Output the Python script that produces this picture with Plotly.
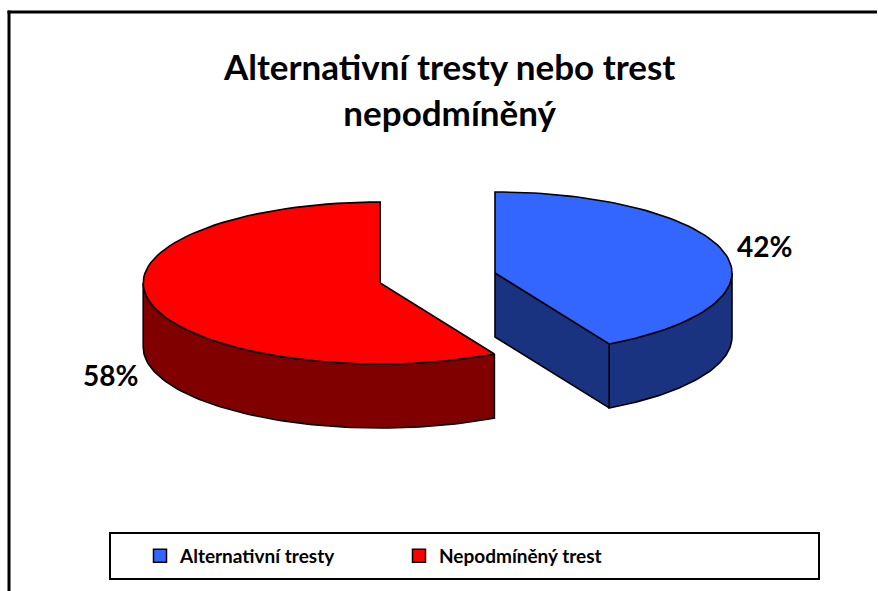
import math
import plotly.graph_objects as go

# data
labels = ["Alternativní tresty", "Nepodmíněný trest"]
values = [42, 58]
top_colors = ["#3366FF", "#FF0000"]
side_colors = ["#1A3380", "#800000"]
title = "Alternativní tresty nebo trest<br>nepodmíněný"

# 3D pie geometry (pixel space of the page)
CX, CY = 437.6, 278.0
RX, RY = 237.0, 81.0
DEPTH = 64.0
EXPLODE = 0.25
FONT = "Lato"


def pt(cx, cy, ang):
    a = math.radians(ang)
    return cx + RX * math.sin(a), cy - RY * math.cos(a)


def arc(cx, cy, a0, a1, n=80):
    pts = [pt(cx, cy, a0 + (a1 - a0) * i / n) for i in range(n + 1)]
    return [p[0] for p in pts], [p[1] for p in pts]


def poly(xs, ys, color, name):
    return go.Scatter(x=xs + [xs[0]], y=ys + [ys[0]], mode="lines", fill="toself",
                      fillcolor=color, line=dict(color="black", width=1.6),
                      showlegend=False, hoverinfo="text", text=name)


fig = go.Figure()
total = float(sum(values))
start = 0.0
annotations = []
for lab, val, ctop, cside in zip(labels, values, top_colors, side_colors):
    end = start + 360.0 * val / total
    mid = (start + end) / 2
    cx = CX + EXPLODE * RX * math.sin(math.radians(mid))
    cy = CY - EXPLODE * RY * math.cos(math.radians(mid))

    # outer wall (front half only)
    w0, w1 = max(start, 90.0), min(end, 270.0)
    if w1 > w0:
        xs, ys = arc(cx, cy, w0, w1)
        fig.add_trace(poly(xs + xs[::-1], ys + [y + DEPTH for y in ys[::-1]], cside, lab))
    # radial faces facing the viewer
    for ang, visible in ((start, math.sin(math.radians(start)) < -1e-9),
                         (end, math.sin(math.radians(end)) > 1e-9)):
        if visible:
            ex, ey = pt(cx, cy, ang)
            fig.add_trace(poly([cx, ex, ex, cx], [cy, ey, ey + DEPTH, cy + DEPTH], cside, lab))
    # top face
    xs, ys = arc(cx, cy, start, end)
    fig.add_trace(poly([cx] + xs, [cy] + ys, ctop, lab))

    # legend entry
    fig.add_trace(go.Scatter(x=[None], y=[None], mode="markers", name=lab,
                             marker=dict(symbol="square", size=13, color=ctop,
                                         line=dict(color="black", width=1.5))))

    # percentage label
    s = math.sin(math.radians(mid))
    lx = cx + (RX + 3) * (1 if s > 0 else -1)
    ly = cy - 1.34 * RY * math.cos(math.radians(mid))
    if math.cos(math.radians(mid)) < 0 and s < 0:
        ly += DEPTH + 1
    annotations.append(dict(x=lx, y=ly, text="<b>%d%%</b>" % val, showarrow=False,
                            xanchor="left" if s > 0 else "right", yanchor="middle",
                            font=dict(size=28, color="black", family=FONT)))
    start = end

fig.update_layout(
    width=878, height=591,
    margin=dict(l=0, r=0, t=0, b=0),
    paper_bgcolor="white", plot_bgcolor="white",
    xaxis=dict(range=[0, 878], visible=False, fixedrange=True),
    yaxis=dict(range=[591, 0], visible=False, fixedrange=True),
    annotations=annotations + [dict(x=449, y=89, text="<b>%s</b>" % title, showarrow=False,
                                    xanchor="center", yanchor="middle",
                                    font=dict(size=35, color="black", family=FONT))],
    shapes=[
        # outer chart frame (only top and left edges fall inside the picture)
        dict(type="line", x0=7.5, y0=12, x1=877, y1=12, line=dict(color="black", width=3)),
        dict(type="line", x0=9, y0=10.5, x1=9, y1=591, line=dict(color="black", width=3)),
        dict(type="rect", x0=110, y0=533, x1=819, y1=579, line=dict(color="black", width=2)),
    ],
    legend=dict(orientation="h", x=140 / 878, y=1 - 556 / 591, xanchor="left", yanchor="middle",
                entrywidth=214, entrywidthmode="pixels",
                font=dict(size=19, color="black", family=FONT, weight="bold"),
                bgcolor="rgba(0,0,0,0)"),
)

fig.write_html("out.html", config={"displayModeBar": False},
               post_script="document.body.style.margin='0';document.body.style.overflow='hidden';")
